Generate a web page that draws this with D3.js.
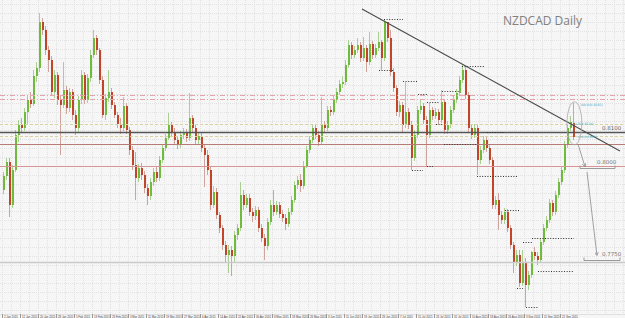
<!DOCTYPE html>
<html>
<head>
<meta charset="utf-8">
<script src="https://cdn.jsdelivr.net/npm/d3@7"></script>
<style>
  html, body { margin: 0; padding: 0; background: #f6f6f6; }
  svg { display: block; }
</style>
</head>
<body>
<div id="chart"></div>
<script>
// daily candles, NZDCAD
const opens = [
  0.7926, 0.7968, 0.8010, 0.7881, 0.7986, 0.8091, 0.8121, 0.8112, 0.8160, 0.8196,
  0.8184, 0.8268, 0.8292, 0.8430, 0.8406, 0.8346, 0.8316, 0.8220, 0.8271, 0.8196,
  0.8181, 0.8226, 0.8172, 0.8220, 0.8151, 0.8112, 0.8196, 0.8271, 0.8196, 0.8262,
  0.8331, 0.8382, 0.8346, 0.8256, 0.8151, 0.8202, 0.8220, 0.8181, 0.8151, 0.8124,
  0.8112, 0.8178, 0.8106, 0.8046, 0.8001, 0.7962, 0.7992, 0.7971, 0.7932, 0.7908,
  0.7950, 0.7980, 0.7962, 0.8016, 0.8052, 0.8082, 0.8121, 0.8100, 0.8076, 0.8061,
  0.8091, 0.8100, 0.8082, 0.8142, 0.8112, 0.8076, 0.8088, 0.8052, 0.8031, 0.7986,
  0.7881, 0.7920, 0.7851, 0.7812, 0.7761, 0.7731, 0.7746, 0.7728, 0.7791, 0.7812,
  0.7911, 0.7881, 0.7902, 0.7860, 0.7848, 0.7866, 0.7812, 0.7782, 0.7758, 0.7830,
  0.7881, 0.7860, 0.7881, 0.7854, 0.7842, 0.7824, 0.7860, 0.7896, 0.7941, 0.7956,
  0.7938, 0.7998, 0.8046, 0.8076, 0.8112, 0.8091, 0.8070, 0.8121, 0.8112, 0.8166,
  0.8160, 0.8196, 0.8220, 0.8244, 0.8250, 0.8301, 0.8361, 0.8331, 0.8346, 0.8361,
  0.8322, 0.8352, 0.8310, 0.8364, 0.8331, 0.8352, 0.8370, 0.8322, 0.8430, 0.8382,
  0.8280, 0.8232, 0.8160, 0.8181, 0.8121, 0.8160, 0.8121, 0.8022, 0.8091, 0.8166,
  0.8178, 0.8136, 0.8091, 0.8166, 0.8148, 0.8160, 0.8136, 0.8190, 0.8106, 0.8121,
  0.8166, 0.8196, 0.8217, 0.8256, 0.8286, 0.8211, 0.8112, 0.8091, 0.8112, 0.8016,
  0.8046, 0.8076, 0.8052, 0.8016, 0.7881, 0.7896, 0.7851, 0.7836, 0.7860, 0.7812,
  0.7761, 0.7710, 0.7731, 0.7647, 0.7710, 0.7641, 0.7671, 0.7740, 0.7728, 0.7716,
  0.7770, 0.7812, 0.7836, 0.7887, 0.7860, 0.7911, 0.7950, 0.7986, 0.8061, 0.8112,
  0.8127
];
const highs = [
  0.7980, 0.8022, 0.8022, 0.8001, 0.8106, 0.8136, 0.8142, 0.8172, 0.8211, 0.8220,
  0.8286, 0.8310, 0.8457, 0.8442, 0.8418, 0.8358, 0.8328, 0.8286, 0.8280, 0.8211,
  0.8310, 0.8238, 0.8232, 0.8229, 0.8166, 0.8208, 0.8286, 0.8280, 0.8274, 0.8346,
  0.8406, 0.8391, 0.8352, 0.8268, 0.8214, 0.8286, 0.8232, 0.8190, 0.8160, 0.8142,
  0.8205, 0.8187, 0.8115, 0.8058, 0.8040, 0.8004, 0.8007, 0.7983, 0.7944, 0.7962,
  0.7992, 0.7998, 0.8028, 0.8064, 0.8094, 0.8157, 0.8130, 0.8112, 0.8088, 0.8103,
  0.8112, 0.8109, 0.8217, 0.8151, 0.8121, 0.8100, 0.8097, 0.8064, 0.8046, 0.7995,
  0.7938, 0.7932, 0.7860, 0.7821, 0.7773, 0.7761, 0.7758, 0.7803, 0.7824, 0.7950,
  0.7926, 0.7914, 0.7914, 0.7872, 0.7878, 0.7875, 0.7824, 0.7794, 0.7842, 0.7896,
  0.7926, 0.7893, 0.7890, 0.7866, 0.7854, 0.7872, 0.7908, 0.7953, 0.7968, 0.7974,
  0.8013, 0.8058, 0.8088, 0.8124, 0.8121, 0.8103, 0.8205, 0.8133, 0.8178, 0.8178,
  0.8208, 0.8232, 0.8256, 0.8268, 0.8316, 0.8376, 0.8370, 0.8358, 0.8382, 0.8370,
  0.8385, 0.8361, 0.8400, 0.8373, 0.8364, 0.8400, 0.8376, 0.8436, 0.8430, 0.8406,
  0.8292, 0.8241, 0.8193, 0.8190, 0.8250, 0.8172, 0.8133, 0.8106, 0.8178, 0.8196,
  0.8187, 0.8148, 0.8187, 0.8175, 0.8172, 0.8169, 0.8226, 0.8199, 0.8133, 0.8178,
  0.8208, 0.8229, 0.8268, 0.8304, 0.8295, 0.8220, 0.8124, 0.8124, 0.8121, 0.8058,
  0.8088, 0.8085, 0.8061, 0.8025, 0.7908, 0.7917, 0.7863, 0.7872, 0.7869, 0.7821,
  0.7770, 0.7746, 0.7746, 0.7746, 0.7722, 0.7683, 0.7743, 0.7755, 0.7740, 0.7782,
  0.7824, 0.7848, 0.7899, 0.7896, 0.7923, 0.7962, 0.7998, 0.8073, 0.8124, 0.8148,
  0.8187
];
const lows = [
  0.7914, 0.7956, 0.7845, 0.7872, 0.7980, 0.8070, 0.8100, 0.8103, 0.8124, 0.8172,
  0.8178, 0.8250, 0.8280, 0.8391, 0.8331, 0.8280, 0.8208, 0.8202, 0.8181, 0.8031,
  0.8172, 0.8154, 0.8160, 0.8136, 0.8091, 0.8100, 0.8184, 0.8184, 0.8187, 0.8250,
  0.8322, 0.8331, 0.8244, 0.8142, 0.8136, 0.8190, 0.8169, 0.8142, 0.8112, 0.8094,
  0.8103, 0.8094, 0.8031, 0.7986, 0.7896, 0.7950, 0.7956, 0.7917, 0.7881, 0.7896,
  0.7938, 0.7950, 0.7953, 0.8007, 0.8043, 0.8076, 0.8088, 0.8064, 0.8049, 0.8052,
  0.8079, 0.8070, 0.8073, 0.8100, 0.8061, 0.8064, 0.8040, 0.7935, 0.7971, 0.7866,
  0.7872, 0.7839, 0.7797, 0.7746, 0.7710, 0.7677, 0.7668, 0.7710, 0.7776, 0.7803,
  0.7866, 0.7872, 0.7848, 0.7830, 0.7836, 0.7800, 0.7770, 0.7716, 0.7746, 0.7821,
  0.7848, 0.7851, 0.7842, 0.7830, 0.7806, 0.7815, 0.7851, 0.7887, 0.7929, 0.7920,
  0.7929, 0.7992, 0.8037, 0.8067, 0.8079, 0.8058, 0.8061, 0.8100, 0.8103, 0.8148,
  0.8151, 0.8187, 0.8211, 0.8232, 0.8241, 0.8292, 0.8319, 0.8322, 0.8337, 0.8310,
  0.8313, 0.8280, 0.8301, 0.8319, 0.8322, 0.8343, 0.8286, 0.8313, 0.8370, 0.8268,
  0.8220, 0.8148, 0.8145, 0.8097, 0.8112, 0.8109, 0.7986, 0.8013, 0.8082, 0.8154,
  0.8124, 0.7998, 0.8082, 0.8136, 0.8139, 0.8124, 0.8127, 0.8094, 0.8094, 0.8112,
  0.8157, 0.8187, 0.8208, 0.8247, 0.8199, 0.8100, 0.8079, 0.8082, 0.7971, 0.8004,
  0.8037, 0.8040, 0.8004, 0.7869, 0.7869, 0.7806, 0.7824, 0.7824, 0.7800, 0.7749,
  0.7677, 0.7698, 0.7635, 0.7638, 0.7575, 0.7626, 0.7662, 0.7716, 0.7701, 0.7707,
  0.7761, 0.7803, 0.7827, 0.7848, 0.7851, 0.7902, 0.7941, 0.7977, 0.8052, 0.8103,
  0.8076
];
const closes = [
  0.7968, 0.8010, 0.7881, 0.7986, 0.8091, 0.8121, 0.8112, 0.8160, 0.8196, 0.8184,
  0.8268, 0.8292, 0.8430, 0.8406, 0.8346, 0.8316, 0.8220, 0.8271, 0.8196, 0.8181,
  0.8226, 0.8172, 0.8220, 0.8151, 0.8112, 0.8196, 0.8271, 0.8196, 0.8262, 0.8331,
  0.8382, 0.8346, 0.8256, 0.8151, 0.8202, 0.8220, 0.8181, 0.8151, 0.8124, 0.8112,
  0.8178, 0.8106, 0.8046, 0.8001, 0.7962, 0.7992, 0.7971, 0.7932, 0.7908, 0.7950,
  0.7980, 0.7962, 0.8016, 0.8052, 0.8082, 0.8121, 0.8100, 0.8076, 0.8061, 0.8091,
  0.8100, 0.8082, 0.8142, 0.8112, 0.8076, 0.8088, 0.8052, 0.8031, 0.7986, 0.7881,
  0.7920, 0.7851, 0.7812, 0.7761, 0.7731, 0.7746, 0.7728, 0.7791, 0.7812, 0.7911,
  0.7881, 0.7902, 0.7860, 0.7848, 0.7866, 0.7812, 0.7782, 0.7758, 0.7830, 0.7881,
  0.7860, 0.7881, 0.7854, 0.7842, 0.7824, 0.7860, 0.7896, 0.7941, 0.7956, 0.7938,
  0.7998, 0.8046, 0.8076, 0.8112, 0.8091, 0.8070, 0.8121, 0.8112, 0.8166, 0.8160,
  0.8196, 0.8220, 0.8244, 0.8250, 0.8301, 0.8361, 0.8331, 0.8346, 0.8361, 0.8322,
  0.8352, 0.8310, 0.8364, 0.8331, 0.8352, 0.8370, 0.8322, 0.8430, 0.8382, 0.8280,
  0.8232, 0.8160, 0.8181, 0.8121, 0.8160, 0.8121, 0.8022, 0.8091, 0.8166, 0.8178,
  0.8136, 0.8091, 0.8166, 0.8148, 0.8160, 0.8136, 0.8190, 0.8106, 0.8121, 0.8166,
  0.8196, 0.8217, 0.8256, 0.8286, 0.8211, 0.8112, 0.8091, 0.8112, 0.8016, 0.8046,
  0.8076, 0.8052, 0.8016, 0.7881, 0.7896, 0.7851, 0.7836, 0.7860, 0.7812, 0.7761,
  0.7710, 0.7731, 0.7647, 0.7710, 0.7641, 0.7671, 0.7740, 0.7728, 0.7716, 0.7770,
  0.7812, 0.7836, 0.7887, 0.7860, 0.7911, 0.7950, 0.7986, 0.8061, 0.8112, 0.8130,
  0.8085
];

// bottom time axis, one label every 6 bars
const dateLabels = [
  "2 Jan 2015", "12 Jan 2015", "20 Jan 2015", "28 Jan 2015", "5 Feb 2015", "13 Feb 2015",
  "23 Feb 2015", "3 Mar 2015", "11 Mar 2015", "19 Mar 2015", "27 Mar 2015", "6 Apr 2015",
  "14 Apr 2015", "22 Apr 2015", "30 Apr 2015", "8 May 2015", "18 May 2015", "26 May 2015",
  "3 Jun 2015", "11 Jun 2015", "19 Jun 2015", "29 Jun 2015", "7 Jul 2015", "15 Jul 2015",
  "23 Jul 2015", "31 Jul 2015", "10 Aug 2015", "18 Aug 2015", "26 Aug 2015", "3 Sep 2015",
  "11 Sep 2015", "21 Sep 2015"
];

// horizontal levels drawn on the chart
const levelPrices = [0.8211, 0.8199, 0.8124, 0.8088, 0.8064, 0.7998, 0.7710, 0.8100];
const levelKinds  = ["pink", "pink", "khaki", "khaki", "brown", "red", "grey", "main"];

// fractal marks: [first bar, last bar, price]
const fractals = [
  [127, 133, 0.8439], [125, 130, 0.8286], [133, 138, 0.8253], [138, 141, 0.8214],
  [141, 145, 0.8190], [146, 152, 0.8223], [153, 160, 0.8298], [144, 146, 0.8124],
  [147, 158, 0.8064], [161, 167, 0.8100], [136, 140, 0.7986], [141, 143, 0.7998],
  [158, 171, 0.7968], [167, 172, 0.7866], [173, 176, 0.7770], [176, 190, 0.7782],
  [178, 190, 0.7683], [171, 173, 0.7632], [174, 178, 0.7575]
];

// trend line: [bar, price]
const trendPoints = [[120, 0.8469], [206, 0.8043]];

// targets on the right
const targetText   = ["0.8000", "0.7750"];
const targetPrices = [0.7992, 0.7716];
const fibText   = ["100.0(0.8181)", "61.8(0.8124)", "0.0(0.8085)"];
const fibPrices = [0.8181, 0.8124, 0.8085];

const W = 625, H = 318;
const n = closes.length;

const x = d3.scaleLinear().domain([0, n]).range([2, 2 + 3 * n]);
const y = d3.scaleLinear().domain([0.7566, 0.8496]).range([310, 0]);

const svg = d3.select("#chart").append("svg")
  .attr("width", W)
  .attr("height", H);

svg.append("rect").attr("width", W).attr("height", H).attr("fill", "#f6f6f6");

// grid
const grid = svg.append("g")
  .attr("stroke", "#e2e2e2")
  .attr("stroke-width", 1)
  .attr("stroke-dasharray", "1,1");

grid.selectAll("line.v")
  .data(d3.range(0, 210, 3))
  .join("line")
  .attr("class", "v")
  .attr("x1", d => Math.round(x(d)) + 0.5)
  .attr("x2", d => Math.round(x(d)) + 0.5)
  .attr("y1", 0)
  .attr("y2", 314);

grid.selectAll("line.h")
  .data(d3.range(0.7566, 0.8496, 0.0027))
  .join("line")
  .attr("class", "h")
  .attr("x1", 0)
  .attr("x2", W)
  .attr("y1", d => Math.round(y(d)) + 0.5)
  .attr("y2", d => Math.round(y(d)) + 0.5);

// title
svg.append("text")
  .attr("x", 503)
  .attr("y", 25)
  .attr("font-family", "Open Sans, sans-serif")
  .attr("font-size", 12)
  .attr("fill", "#808080")
  .text("NZDCAD Daily");

// candles
const candles = d3.range(n).map(i => ({
  i, o: opens[i], h: highs[i], l: lows[i], c: closes[i]
}));

const candleG = svg.append("g");

candleG.selectAll("line.wick")
  .data(candles)
  .join("line")
  .attr("class", "wick")
  .attr("x1", d => x(d.i + 0.5))
  .attr("x2", d => x(d.i + 0.5))
  .attr("y1", d => y(d.h))
  .attr("y2", d => y(d.l))
  .attr("stroke", d => d.c >= d.o ? "#aacf92" : "#cfa49c")
  .attr("stroke-width", 1);

candleG.selectAll("rect.body")
  .data(candles)
  .join("rect")
  .attr("class", "body")
  .attr("x", d => x(d.i) + 1)
  .attr("width", 2)
  .attr("y", d => y(Math.max(d.o, d.c)))
  .attr("height", d => Math.max(1, y(Math.min(d.o, d.c)) - y(Math.max(d.o, d.c))))
  .attr("fill", d => d.c >= d.o ? "#6fbb3c" : "#c2452a");

// levels
const levelStyle = {
  pink:  { stroke: "#e4a4aa", width: 1, dash: "5,2,1,2" },
  khaki: { stroke: "#d9d3a4", width: 1, dash: "3,2" },
  brown: { stroke: "#b77a74", width: 1, dash: null },
  red:   { stroke: "#d69494", width: 1, dash: null },
  grey:  { stroke: "#c9c9c9", width: 1.5, dash: null },
  main:  { stroke: "#555555", width: 1.5, dash: null }
};

svg.append("g").selectAll("line")
  .data(levelPrices.map((p, k) => ({ p, kind: levelKinds[k] })))
  .join("line")
  .attr("x1", 0)
  .attr("x2", W)
  .attr("y1", d => Math.round(y(d.p)) + 0.5)
  .attr("y2", d => Math.round(y(d.p)) + 0.5)
  .attr("stroke", d => levelStyle[d.kind].stroke)
  .attr("stroke-width", d => levelStyle[d.kind].width)
  .attr("stroke-dasharray", d => levelStyle[d.kind].dash);

// fractal dotted marks
svg.append("g").selectAll("line")
  .data(fractals)
  .join("line")
  .attr("x1", d => Math.round(x(d[0] + 0.5)))
  .attr("x2", d => Math.round(x(d[1] + 0.5)))
  .attr("y1", d => Math.round(y(d[2])) + 0.5)
  .attr("y2", d => Math.round(y(d[2])) + 0.5)
  .attr("stroke", "#333")
  .attr("stroke-width", 1)
  .attr("stroke-dasharray", "1,1.6");

// trend line
svg.append("line")
  .attr("x1", x(trendPoints[0][0]))
  .attr("y1", y(trendPoints[0][1]))
  .attr("x2", x(trendPoints[1][0]))
  .attr("y2", y(trendPoints[1][1]))
  .attr("stroke", "#4a4a4a")
  .attr("stroke-width", 1.1);

// label of main level
svg.append("text")
  .attr("x", 602)
  .attr("y", y(0.8100) - 2)
  .attr("font-family", "DejaVu Sans, sans-serif")
  .attr("font-size", 5.5)
  .attr("fill", "#666")
  .text("0.8100");

// ellipse around last bars + fib labels
const ex = x(190.8), ey = y(0.8126);
svg.append("ellipse")
  .attr("cx", ex)
  .attr("cy", ey)
  .attr("rx", 7.5)
  .attr("ry", 21.5)
  .attr("fill", "none")
  .attr("stroke", "#a9a9a9")
  .attr("stroke-width", 0.8);

svg.append("g").selectAll("text")
  .data(fibText)
  .join("text")
  .attr("x", (d, k) => [580, 573, 578][k])
  .attr("y", (d, k) => y(fibPrices[k]) + 1)
  .attr("font-family", "DejaVu Sans, sans-serif")
  .attr("font-size", 3.2)
  .attr("fill", "#3aaed0")
  .text(d => d);

// arrows to targets
svg.append("defs").append("marker")
  .attr("id", "arr")
  .attr("viewBox", "0 0 6 6")
  .attr("refX", 5).attr("refY", 3)
  .attr("markerWidth", 5).attr("markerHeight", 5)
  .attr("orient", "auto")
  .append("path")
  .attr("d", "M0,0 L6,3 L0,6")
  .attr("fill", "none")
  .attr("stroke", "#888");

const arrows = [
  [[192, 0.8064], [194.3, 0.7997]],
  [[195, 0.7980], [198.3, 0.7731]]
];
svg.append("g").selectAll("line")
  .data(arrows)
  .join("line")
  .attr("x1", d => x(d[0][0]))
  .attr("y1", d => y(d[0][1]))
  .attr("x2", d => x(d[1][0]))
  .attr("y2", d => y(d[1][1]))
  .attr("stroke", "#8a8a8a")
  .attr("stroke-width", 0.8)
  .attr("marker-end", "url(#arr)");

// target brackets
const tg = svg.append("g").selectAll("g")
  .data(targetText.map((t, k) => ({ t, p: targetPrices[k], x0: [580, 584][k], x1: [615, 620][k] })))
  .join("g");

tg.append("path")
  .attr("d", d => {
    const yy = Math.round(y(d.p)) + 0.5;
    return `M${d.x0},${yy - 3}V${yy}H${d.x1}V${yy - 3}`;
  })
  .attr("fill", "none")
  .attr("stroke", "#9a9a9a")
  .attr("stroke-width", 1);

tg.append("text")
  .attr("x", d => d.x1 - 18)
  .attr("y", d => y(d.p) - 4)
  .attr("font-family", "DejaVu Sans, sans-serif")
  .attr("font-size", 5.5)
  .attr("fill", "#777")
  .text(d => d.t);

// time axis
const axisG = svg.append("g");
axisG.append("line")
  .attr("x1", 0).attr("x2", W)
  .attr("y1", 314.5).attr("y2", 314.5)
  .attr("stroke", "#e0e0e0");

axisG.selectAll("line.tick")
  .data(dateLabels)
  .join("line")
  .attr("class", "tick")
  .attr("x1", (d, k) => Math.round(x(k * 6)) + 0.5)
  .attr("x2", (d, k) => Math.round(x(k * 6)) + 0.5)
  .attr("y1", 314)
  .attr("y2", 318)
  .attr("stroke", "#999");

axisG.selectAll("text")
  .data(dateLabels)
  .join("text")
  .attr("x", (d, k) => x(k * 6) + 2)
  .attr("y", 318)
  .attr("font-family", "Liberation Sans, sans-serif")
  .attr("font-size", 2.8)
  .attr("fill", "#444")
  .text(d => d);
</script>
</body>
</html>
